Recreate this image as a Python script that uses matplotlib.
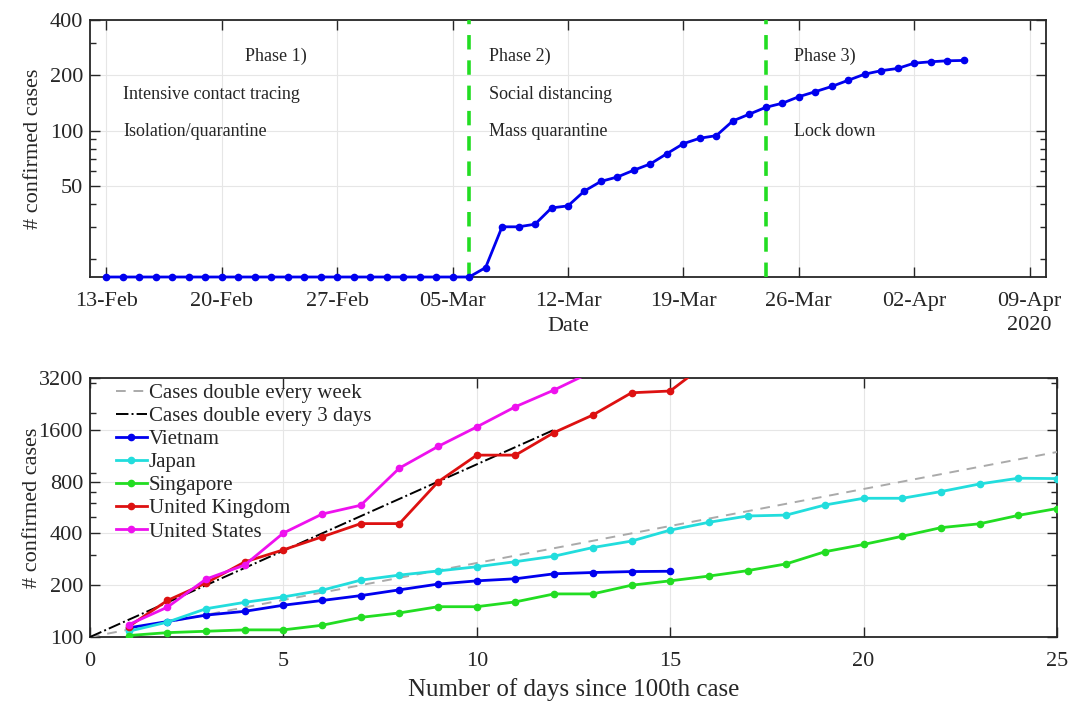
import matplotlib
matplotlib.use("Agg")
import matplotlib.pyplot as plt
import matplotlib.dates as mdates
from matplotlib.ticker import FixedLocator, LogLocator, NullFormatter
import pandas as pd

plt.rcParams['font.family'] = ['Liberation Serif', 'DejaVu Serif']

# ---- data: Vietnam cumulative cases by date (top panel)
vn_start = '2020-02-13'
vn_cases = [16] * 22 + [16, 18, 30, 30, 31, 38, 39, 47, 53, 56, 61, 66, 75, 85, 91, 94,
                        113, 123, 134, 141, 153, 163, 174, 188, 203, 212, 218, 233, 237, 240, 241]
phase_lines = ['2020-03-06', '2020-03-24']
top_yticks = [50, 100, 200, 400]

# ---- data: days since 100th case (bottom panel)
vietnam = [113, 123, 134, 141, 153, 163, 174, 188, 203, 212, 218, 233, 237, 240, 241]
japan = [108, 122, 146, 159, 171, 187, 214, 229, 242, 256, 274, 295, 331, 361, 418,
         464, 505, 511, 585, 640, 640, 700, 775, 837, 833]
singapore = [102, 106, 108, 110, 110, 117, 130, 138, 150, 150, 160, 178, 178, 200, 212,
             226, 243, 266, 313, 345, 385, 432, 455, 509, 558]
uk = [115, 163, 206, 273, 321, 382, 456, 456, 798, 1140, 1140, 1543, 1950, 2626, 2689, 3983]
us = [118, 149, 217, 262, 402, 518, 583, 959, 1281, 1663, 2179, 2726, 3499]
week_x, week_y = [0, 25], [100, 1189]
three_x, three_y = [0, 12], [100, 1600]
bot_yticks = [100, 200, 400, 800, 1600, 3200]

txt = '#262626'
fig = plt.figure(figsize=(10.77, 7.01), dpi=100)


def style_axes(ax):
    for s in ax.spines.values():
        s.set_color(txt)
        s.set_linewidth(1.3)
    ax.tick_params(which='both', direction='in', top=True, right=True,
                   colors=txt, labelsize=16, width=1.0)
    ax.tick_params(axis='x', pad=11)
    ax.tick_params(axis='y', pad=5)
    ax.tick_params(which='major', length=7)
    ax.tick_params(which='minor', length=4)
    ax.grid(True, which='major', color='#e6e6e6', linewidth=0.8)
    ax.set_axisbelow(True)


# ---------------- top panel
ax1 = fig.add_axes([90 / 1077, 1 - 277 / 701, (1046 - 90) / 1077, (277 - 20) / 701])
dates = pd.date_range(vn_start, periods=len(vn_cases))
ax1.plot(dates, vn_cases, '-o', color='#0000ee', lw=2, ms=4.5, clip_on=False, zorder=4)
for d in phase_lines:
    ax1.axvline(pd.Timestamp(d), color='#22dd22', ls=(0, (4, 3)), lw=2.6, zorder=3)

ax1.set_yscale('log')
ax1.set_ylim(16, 400)
ax1.yaxis.set_major_locator(FixedLocator(top_yticks))
ax1.yaxis.set_major_formatter(plt.FixedFormatter([str(v) for v in top_yticks]))
ax1.yaxis.set_minor_locator(LogLocator(base=10, subs=range(2, 10)))
ax1.yaxis.set_minor_formatter(NullFormatter())
ax1.set_xlim(pd.Timestamp('2020-02-12'), pd.Timestamp('2020-04-10'))
ax1.xaxis.set_major_locator(FixedLocator(mdates.date2num(
    pd.date_range('2020-02-13', '2020-04-09', freq='7D'))))
ax1.xaxis.set_major_formatter(mdates.DateFormatter('%d-%b'))
style_axes(ax1)
ax1.set_ylabel('# confirmed cases', fontsize=16, color=txt)
ax1.yaxis.set_label_coords(-0.049, 0.5)
ax1.set_xlabel('Date', fontsize=16, color=txt, labelpad=4)
ax1.text(pd.Timestamp('2020-04-09'), -0.19, '2020', transform=ax1.get_xaxis_transform(),
         ha='center', va='center', fontsize=16, color=txt)

fs = 13
ax1.text(pd.Timestamp('2020-02-21 10:00'), 253, 'Phase 1)', fontsize=fs, va='center', color=txt)
ax1.text(pd.Timestamp('2020-02-14'), 157, 'Intensive contact tracing', fontsize=fs, va='center', color=txt)
ax1.text(pd.Timestamp('2020-02-14'), 99, 'Isolation/quarantine', fontsize=fs, va='center', color=txt)
ax1.text(pd.Timestamp('2020-03-07 05:00'), 253, 'Phase 2)', fontsize=fs, va='center', color=txt)
ax1.text(pd.Timestamp('2020-03-07 05:00'), 157, 'Social distancing', fontsize=fs, va='center', color=txt)
ax1.text(pd.Timestamp('2020-03-07 05:00'), 99, 'Mass quarantine', fontsize=fs, va='center', color=txt)
ax1.text(pd.Timestamp('2020-03-25 17:00'), 253, 'Phase 3)', fontsize=fs, va='center', color=txt)
ax1.text(pd.Timestamp('2020-03-25 17:00'), 99, 'Lock down', fontsize=fs, va='center', color=txt)

# ---------------- bottom panel
ax2 = fig.add_axes([90 / 1077, 1 - 637 / 701, (1057 - 90) / 1077, (637 - 378) / 701])
ax2.plot(week_x, week_y, color='#aaaaaa', ls=(0, (5, 4)), lw=1.4,
         label='Cases double every week', zorder=3)
ax2.plot(three_x, three_y, '-.', color='black', lw=1.4, label='Cases double every 3 days', zorder=3)
series = [('Vietnam', vietnam, '#0000ee'), ('Japan', japan, '#22dddd'),
          ('Singapore', singapore, '#22dd22'), ('United Kingdom', uk, '#dd1111'),
          ('United States', us, '#ee11ee')]
for name, vals, col in series:
    ax2.plot(range(1, len(vals) + 1), vals, '-o', color=col, lw=2, ms=4.5, label=name, zorder=4)

ax2.set_yscale('log')
ax2.set_ylim(100, 3200)
ax2.set_xlim(0, 25)
ax2.set_xticks(range(0, 26, 5))
ax2.yaxis.set_major_locator(FixedLocator(bot_yticks))
ax2.yaxis.set_major_formatter(plt.FixedFormatter([str(v) for v in bot_yticks]))
ax2.yaxis.set_minor_locator(LogLocator(base=10, subs=range(2, 10)))
ax2.yaxis.set_minor_formatter(NullFormatter())
style_axes(ax2)
ax2.set_ylabel('# confirmed cases', fontsize=16, color=txt)
ax2.yaxis.set_label_coords(-0.05, 0.5)
ax2.set_xlabel('Number of days since 100th case', fontsize=18, color=txt, labelpad=5)
leg = ax2.legend(loc='upper left', bbox_to_anchor=(0.021, 1.0), frameon=False, fontsize=15,
                 handlelength=1.5, handletextpad=0.1, labelspacing=0.17,
                 borderaxespad=0, borderpad=0.25)
for t in leg.get_texts():
    t.set_color(txt)

fig.savefig('out.png', dpi=100)
